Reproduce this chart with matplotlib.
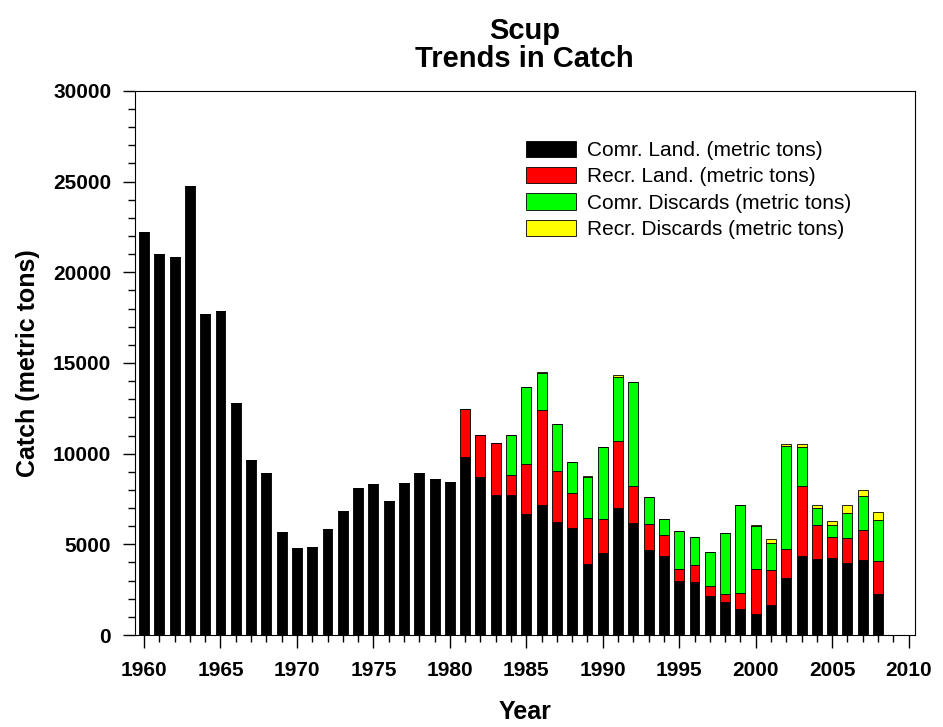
import matplotlib
matplotlib.use("Agg")
import matplotlib.pyplot as plt
import numpy as np
from matplotlib.ticker import MultipleLocator

plt.rcParams['font.family'] = ['Liberation Sans', 'DejaVu Sans']

years = np.arange(1960, 2009)

# values (metric tons)
comr_land = [22240, 21000, 20860, 24760, 17680, 17880, 12810, 9660, 8910, 5680,
             4810, 4870, 5870, 6820, 8080, 8340, 7390, 8380, 8950, 8590,
             8460, 9830, 8690, 7730, 7730, 6700, 7150, 6240, 5910, 3920,
             4530, 7020, 6190, 4700, 4360, 3000, 2930, 2150, 1820, 1440,
             1160, 1660, 3150, 4360, 4180, 4250, 3980, 4140, 2270]
recr_land = [0] * 21 + [
             2640, 2340, 2880, 1090, 2750, 5230, 2800, 1920, 2530,
             1880, 3700, 2020, 1430, 1160, 630, 940, 540, 430, 860,
             2470, 1930, 1600, 3840, 1900, 1150, 1360, 1660, 1820]
comr_disc = [0] * 21 + [
             0, 0, 0, 2210, 4230, 2040, 2600, 1710, 2280,
             3940, 3530, 5730, 1490, 850, 2080, 1540, 1880, 3370, 4860,
             2360, 1510, 5660, 2170, 940, 660, 1380, 1860, 2250]
recr_disc = [0] * 21 + [
             0, 0, 0, 0, 0, 90, 0, 0, 40,
             0, 100, 0, 0, 0, 0, 0, 0, 0, 0,
             70, 200, 140, 150, 130, 200, 430, 310, 420]

series = [
    ("Comr. Land. (metric tons)", comr_land, "#000000"),
    ("Recr. Land. (metric tons)", recr_land, "#ff0000"),
    ("Comr. Discards (metric tons)", comr_disc, "#00ff00"),
    ("Recr. Discards (metric tons)", recr_disc, "#ffff00"),
]

fig = plt.figure(figsize=(9.43, 7.27), dpi=100)
ax = fig.add_axes([0.143, 0.1265, 0.827, 0.7485])

bottom = np.zeros(len(years))
for label, vals, color in series:
    vals = np.array(vals, dtype=float)
    ax.bar(years, vals, bottom=bottom, width=0.65, color=color,
           edgecolor="black", linewidth=0.6, label=label)
    bottom += vals

ax.set_xlim(1959.4, 2010.4)
ax.set_ylim(0, 30000)
ax.xaxis.set_major_locator(MultipleLocator(5))
ax.xaxis.set_minor_locator(MultipleLocator(1))
ax.yaxis.set_major_locator(MultipleLocator(5000))
ax.yaxis.set_minor_locator(MultipleLocator(1000))
ax.tick_params(which="major", direction="out", length=9, width=1,
               labelsize=15)
ax.tick_params(which="minor", direction="out", length=5, width=1)
ax.tick_params(axis="x", which="major", pad=10)
ax.tick_params(axis="y", which="major", pad=8)
for lab in ax.get_xticklabels() + ax.get_yticklabels():
    lab.set_fontweight("bold")

ax.set_xlabel("Year", fontsize=18, fontweight="bold")
ax.xaxis.set_label_coords(0.5, -0.12)
ax.set_ylabel("Catch (metric tons)", fontsize=18, fontweight="bold")
ax.yaxis.set_label_coords(-0.122, 0.5)
ax.set_title("Scup\nTrends in Catch", fontsize=21, fontweight="bold",
             linespacing=1.0, pad=17)

ax.legend(loc="upper left", bbox_to_anchor=(0.478, 0.943), frameon=False,
          fontsize=15, handlelength=2.4, handleheight=0.82,
          labelspacing=0.34, handletextpad=0.53)

fig.savefig("out.png", dpi=100)
